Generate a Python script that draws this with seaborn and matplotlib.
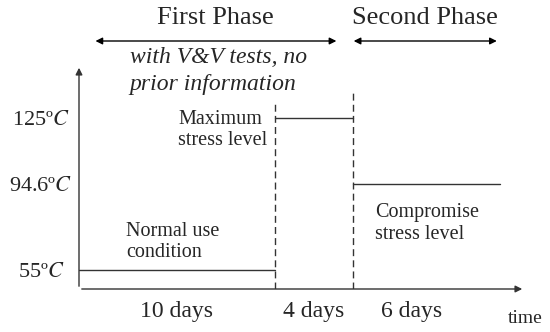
import pandas as pd
import seaborn as sns
import matplotlib.pyplot as plt

# stress profile: phase durations (days) and temperature levels
durations = [10, 4, 6]
temps = [55, 125, 94.6]
last_end = 21.5
level_names = ["Normal use\ncondition", "Maximum\nstress level", "Compromise\nstress level"]
y_labels = ["55º$C$", "125º$C$", "94.6º$C$"]
x_labels = ["10 days", "4 days", "6 days"]
phase_names = ["First Phase", "Second Phase"]
phase_note = "with V&V tests, no\nprior information"

sns.set_theme(style="white")
plt.rcParams["font.family"] = ["Liberation Serif", "DejaVu Serif"]
plt.rcParams["mathtext.fontset"] = "stix"

starts = [0, durations[0], durations[0] + durations[1]]
ends = [durations[0], durations[0] + durations[1], last_end]
rows = []
for i in range(3):
    rows.append({"time": starts[i], "temp": temps[i], "level": i})
    rows.append({"time": ends[i], "temp": temps[i], "level": i})
df = pd.DataFrame(rows)

fig = plt.figure(figsize=(5.5, 3.32), dpi=100)
ax = fig.add_axes([79 / 550, 43 / 332, 446 / 550, 224 / 332])
sns.lineplot(data=df, x="time", y="temp", units="level", estimator=None,
             color="#333333", linewidth=1.0, ax=ax, legend=False)
ax.set_xlim(0, 22.8)
ax.set_ylim(46.25, 149.4)
for s in ax.spines.values():
    s.set_visible(False)

# axes with arrow heads
ax.annotate("", xy=(0, 1), xytext=(0, 0), xycoords="axes fraction",
            arrowprops=dict(arrowstyle="-|>", color="#333333", lw=1.0, mutation_scale=10))
ax.annotate("", xy=(1, 0), xytext=(0, 0), xycoords="axes fraction",
            arrowprops=dict(arrowstyle="-|>", color="#333333", lw=1.0, mutation_scale=10))

# dashed boundaries
ax.vlines(ends[0], 46.25, 132.4, colors="#333333", linestyles=(0, (5, 3)), linewidth=1.0)
ax.vlines(ends[1], 46.25, 137.4, colors="#333333", linestyles=(0, (5, 3)), linewidth=1.0)

ax.set_yticks(temps, y_labels, fontsize=16)
for lbl in ax.get_yticklabels():
    lbl.set_horizontalalignment("center")
x_centers = [(a + b) / 2 for a, b in zip(starts, [ends[0], ends[1], starts[2] + durations[2]])]
ax.set_xticks(x_centers, x_labels, fontsize=17)
ax.tick_params(axis="y", length=0, pad=27.5)
ax.tick_params(axis="x", length=0, pad=9)
ax.set_xlabel("")
ax.set_ylabel("")
ax.text(1.0, -0.13, "time", transform=ax.transAxes, fontsize=14, ha="center", va="center")

# level annotations
ax.text(2.4, 68.1, level_names[0], fontsize=14.5, va="center", linespacing=1.15)
ax.text(5.06, 119.5, level_names[1], fontsize=14.5, va="center", linespacing=1.15)
ax.text(15.14, 76.4, level_names[2], fontsize=14.5, va="center", linespacing=1.15)

# phase arrows above the plot
ty = ("data", "figure fraction")
ay = 1 - 41 / 332
ax.annotate("", xy=(0.7, ay), xytext=(13.3, ay), xycoords=ty,
            arrowprops=dict(arrowstyle="<|-|>", color="black", lw=1.0, mutation_scale=10))
ax.annotate("", xy=(13.9, ay), xytext=(21.5, ay), xycoords=ty,
            arrowprops=dict(arrowstyle="<|-|>", color="black", lw=1.0, mutation_scale=10))
ax.annotate(phase_names[0], xy=(6.96, 1 - 18 / 332), xycoords=ty, fontsize=19,
            ha="center", va="center")
ax.annotate(phase_names[1], xy=(17.7, 1 - 18 / 332), xycoords=ty, fontsize=19,
            ha="center", va="center")
ax.annotate(phase_note, xy=(2.6, 1 - 71 / 332), xycoords=ty, fontsize=17,
            style="italic", ha="left", va="center", linespacing=1.35)

fig.savefig("out.png", dpi=100)
